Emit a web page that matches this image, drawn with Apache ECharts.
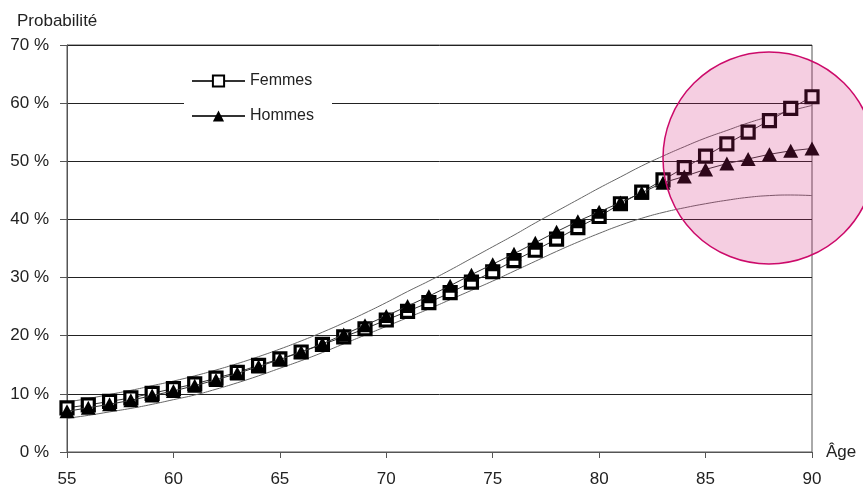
<!DOCTYPE html>
<html><head><meta charset="utf-8">
<script src="https://cdn.jsdelivr.net/npm/echarts@6/dist/echarts.min.js"></script>
<style>html,body{margin:0;padding:0;background:#fff}#c{width:863px;height:494px}</style>
</head><body><div id="c"></div>
<script>
const ages = [55,56,57,58,59,60,61,62,63,64,65,66,67,68,69,70,71,72,73,74,75,76,77,78,79,80,81,82,83,84,85,86,87,88,89,90];
const femmes = [7.6,8.1,8.7,9.3,10.1,10.9,11.7,12.7,13.7,14.9,16.0,17.2,18.5,19.8,21.2,22.7,24.2,25.7,27.4,29.2,31.0,32.9,34.7,36.6,38.6,40.5,42.7,44.7,46.8,48.9,50.9,53.0,55.0,57.0,59.1,61.1];
const hommes = [7.0,7.6,8.2,8.9,9.7,10.5,11.4,12.4,13.5,14.7,15.9,17.2,18.6,20.2,21.8,23.4,25.1,26.8,28.6,30.5,32.3,34.1,36.0,37.9,39.7,41.3,42.9,44.6,46.3,47.4,48.6,49.6,50.4,51.2,51.8,52.2];
const bandHaut = [8.6,9.2,9.9,10.6,11.4,12.2,13.1,14.1,15.2,16.4,17.7,19.1,20.6,22.2,23.9,25.7,27.6,29.4,31.3,33.3,35.3,37.3,39.4,41.4,43.4,45.4,47.3,49.2,50.9,52.5,54.0,55.3,56.6,57.7,58.7,59.6];
const bandBas = [5.8,6.3,6.9,7.5,8.2,9.0,9.8,10.8,11.9,13.1,14.4,15.7,17.1,18.6,20.1,21.6,23.1,24.6,26.2,27.8,29.4,31.1,32.8,34.5,36.1,37.6,39.0,40.2,41.2,42.0,42.7,43.3,43.8,44.1,44.2,44.1];
const yTicks = [0,10,20,30,40,50,60,70];

const pairs = arr => ages.map((a,i) => [a, arr[i]]);
const font = 'Liberation Sans, Arial, sans-serif';
const chart = echarts.init(document.getElementById('c'), null, {renderer:'canvas'});
chart.setOption({
  animation:false,
  backgroundColor:'#fff',
  title:{text:'Probabilité', left:12, top:8, textStyle:{fontFamily:font, fontSize:17, fontWeight:'normal', color:'#222'}},
  grid:{left:67, right:51, top:45, bottom:42, show:true, borderColor:'#555', borderWidth:1},
  legend:{
    orient:'vertical', left:184, top:65, padding:[8,18,8,7],
    backgroundColor:'#fff', itemWidth:53, itemHeight:14, itemGap:19,
    data:['Femmes','Hommes'],
    textStyle:{fontFamily:font, fontSize:16, color:'#222'}
  },
  xAxis:{
    type:'value', min:55, max:90, interval:5,
    name:'Âge', nameLocation:'end', nameGap:14,
    nameTextStyle:{fontFamily:font, fontSize:17, color:'#222'},
    axisLine:{show:true, lineStyle:{color:'#555', width:1}},
    axisTick:{show:true, length:6, lineStyle:{color:'#555'}},
    axisLabel:{fontFamily:font, fontSize:17, color:'#222', margin:19},
    splitLine:{show:false}
  },
  yAxis:{
    type:'value', min:0, max:70, interval:10,
    axisLine:{show:true, lineStyle:{color:'#555', width:1}},
    axisTick:{show:true, length:7, lineStyle:{color:'#555'}},
    axisLabel:{fontFamily:font, fontSize:17, color:'#222', margin:18, formatter:v => yTicks.includes(v) ? v + ' %' : ''},
    splitLine:{show:true, lineStyle:{color:'#222', width:1}}
  },
  series:[
    {name:'haut', type:'line', data:pairs(bandHaut), smooth:true, symbol:'none', silent:true,
     lineStyle:{color:'#666', width:1}, z:2},
    {name:'bas', type:'line', data:pairs(bandBas), smooth:true, symbol:'none', silent:true,
     lineStyle:{color:'#666', width:1}, z:2},
    {name:'Femmes', type:'line', data:pairs(femmes), symbol:'rect', symbolSize:12,
     itemStyle:{color:'#fff', borderColor:'#000', borderWidth:3.2},
     lineStyle:{color:'#333', width:1}, z:3},
    {name:'Hommes', type:'line', data:pairs(hommes), symbol:'triangle', symbolSize:[15,14],
     itemStyle:{color:'#000'},
     lineStyle:{color:'#333', width:1}, z:4}
  ],
  graphic:[
    {type:'circle', shape:{cx:769, cy:158, r:106}, z:100,
     style:{fill:'rgba(210,30,120,0.22)', stroke:'#cc0a6a', lineWidth:1.5}}
  ]
});
</script></body></html>
